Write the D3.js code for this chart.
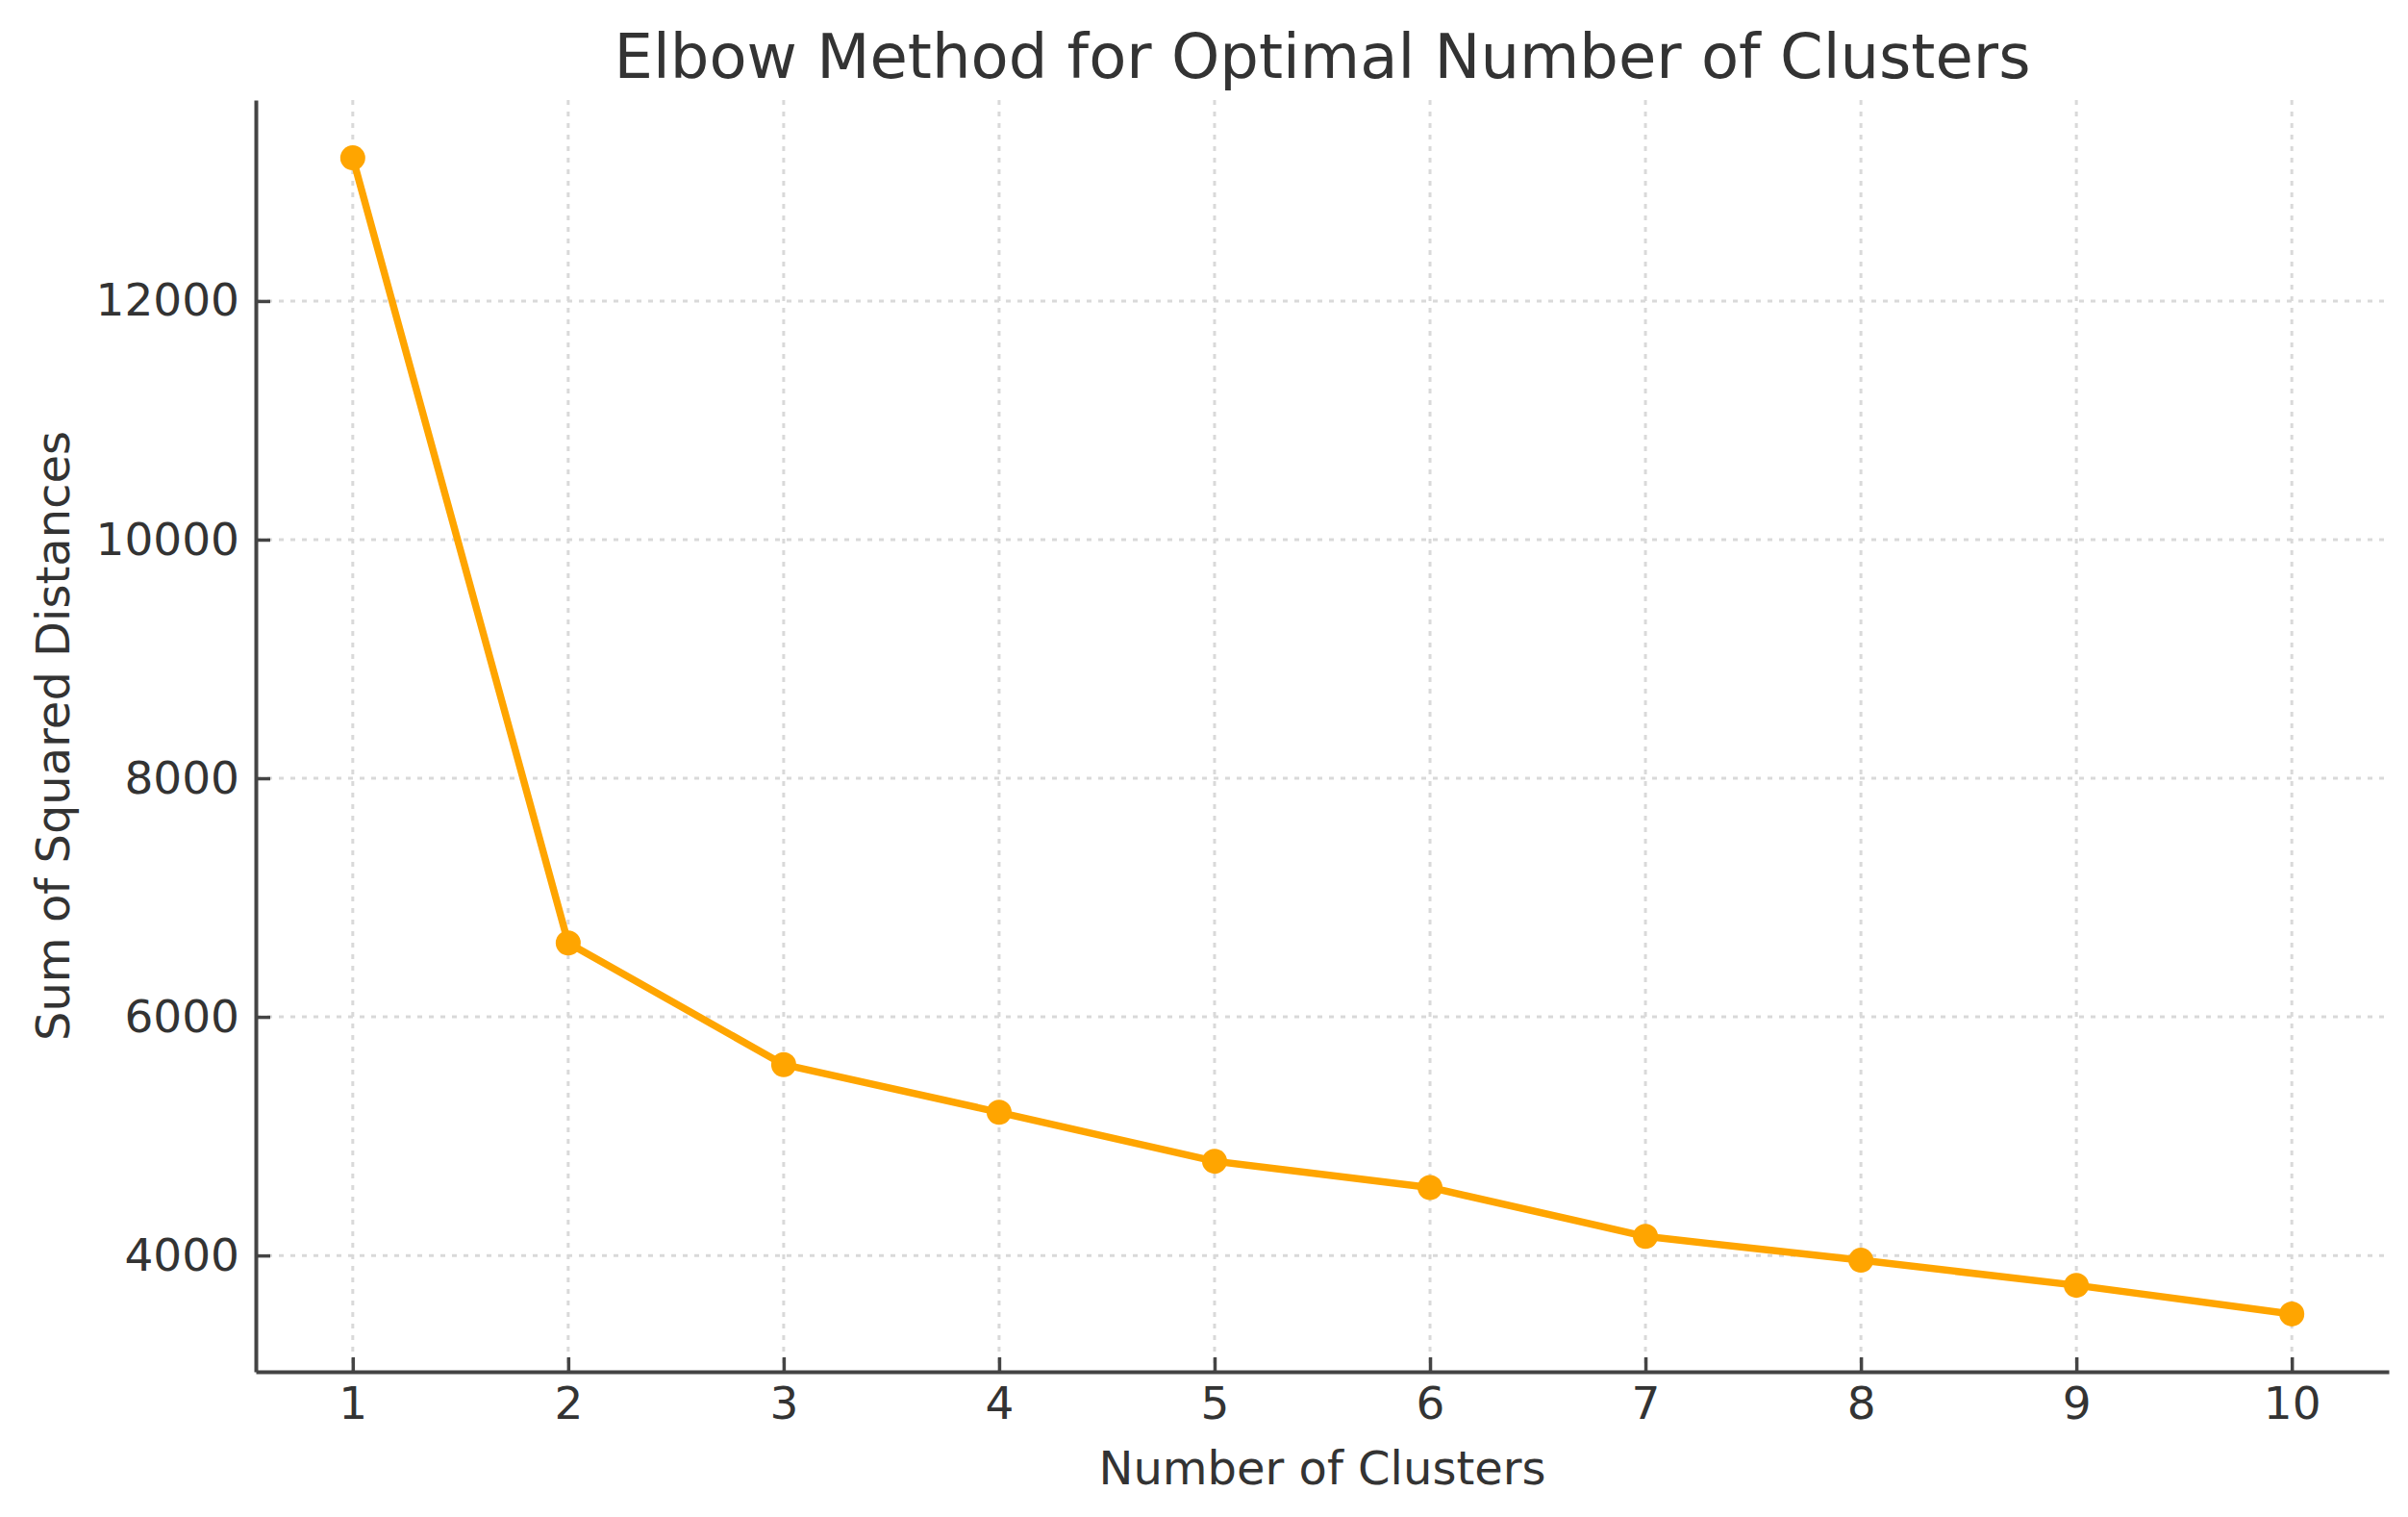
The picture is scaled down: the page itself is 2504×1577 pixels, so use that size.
<!DOCTYPE html>
<html>
<head>
<meta charset="utf-8">
<script src="https://cdn.jsdelivr.net/npm/d3@7"></script>
<style>
  html, body { margin: 0; padding: 0; background: #ffffff; }
  svg { display: block; font-family: "DejaVu Sans", sans-serif; }
</style>
</head>
<body>
<svg id="chart" width="2504" height="1577"></svg>
<script>
// ---- data ----
const clusters = [1, 2, 3, 4, 5, 6, 7, 8, 9, 10];
const sse = [13200, 6620, 5600, 5200, 4790, 4570, 4160, 3960, 3750, 3510];
const xTicks = [1, 2, 3, 4, 5, 6, 7, 8, 9, 10];
const yTicks = [4000, 6000, 8000, 10000, 12000];
const titleText = "Elbow Method for Optimal Number of Clusters";
const xLabel = "Number of Clusters";
const yLabel = "Sum of Squared Distances";

const W = 2504, H = 1577;
const margin = { left: 266, right: 20, top: 104, bottom: 151 };
const svg = d3.select("#chart");

// matplotlib-style 5% margins
const yMin = d3.min(sse), yMax = d3.max(sse);
const yPad = (yMax - yMin) * 0.05;
const x = d3.scaleLinear()
  .domain([d3.min(clusters) - 0.45, d3.max(clusters) + 0.45])
  .range([margin.left, W - margin.right]);
const y = d3.scaleLinear()
  .domain([yMin - yPad, yMax + yPad])
  .range([H - margin.bottom, margin.top]);

const textColor = "#333333";
const spineColor = "#444444";
const gridColor = "#d9d9d9";

// grid
const grid = svg.append("g");
grid.selectAll("line.vg").data(xTicks).join("line")
  .attr("x1", d => x(d)).attr("x2", d => x(d))
  .attr("y1", margin.top).attr("y2", H - margin.bottom)
  .attr("stroke", gridColor).attr("stroke-width", 3)
  .attr("stroke-dasharray", "5,7");
grid.selectAll("line.hg").data(yTicks).join("line")
  .attr("x1", margin.left).attr("x2", W - margin.right)
  .attr("y1", d => y(d)).attr("y2", d => y(d))
  .attr("stroke", gridColor).attr("stroke-width", 3)
  .attr("stroke-dasharray", "5,7");

// axes (ticks inward)
const xAxis = d3.axisBottom(x).tickValues(xTicks).tickFormat(d3.format("d"))
  .tickSizeInner(-15).tickSizeOuter(0).tickPadding(16);
const yAxis = d3.axisLeft(y).tickValues(yTicks).tickFormat(d3.format("d"))
  .tickSizeInner(-15).tickSizeOuter(0).tickPadding(17);

const gx = svg.append("g").attr("transform", `translate(0,${H - margin.bottom})`).call(xAxis);
const gy = svg.append("g").attr("transform", `translate(${margin.left},0)`).call(yAxis);
[gx, gy].forEach(g => {
  g.select(".domain").attr("stroke", spineColor).attr("stroke-width", 4);
  g.selectAll(".tick line").attr("stroke", spineColor).attr("stroke-width", 3.5);
  g.selectAll(".tick text").attr("fill", textColor)
    .style("font-family", "'DejaVu Sans', sans-serif").style("font-size", "47px");
});

// line
const line = d3.line().x((d, i) => x(clusters[i])).y(d => y(d));
svg.append("path").datum(sse)
  .attr("d", line)
  .attr("fill", "none")
  .attr("stroke", "#FFA500")
  .attr("stroke-width", 7.5)
  .attr("stroke-linejoin", "round");

svg.append("g").selectAll("circle").data(sse).join("circle")
  .attr("cx", (d, i) => x(clusters[i]))
  .attr("cy", d => y(d))
  .attr("r", 13)
  .attr("fill", "#FFA500");

// labels
svg.append("text")
  .attr("x", (margin.left + W - margin.right) / 2).attr("y", 81)
  .attr("text-anchor", "middle").attr("fill", textColor)
  .style("font-size", "64px").text(titleText);

svg.append("text")
  .attr("x", (margin.left + W - margin.right) / 2).attr("y", 1543)
  .attr("text-anchor", "middle").attr("fill", textColor)
  .style("font-size", "48px").text(xLabel);

svg.append("text")
  .attr("transform", `translate(72,${(margin.top + H - margin.bottom) / 2}) rotate(-90)`)
  .attr("text-anchor", "middle").attr("fill", textColor)
  .style("font-size", "48px").text(yLabel);
</script>
</body>
</html>
